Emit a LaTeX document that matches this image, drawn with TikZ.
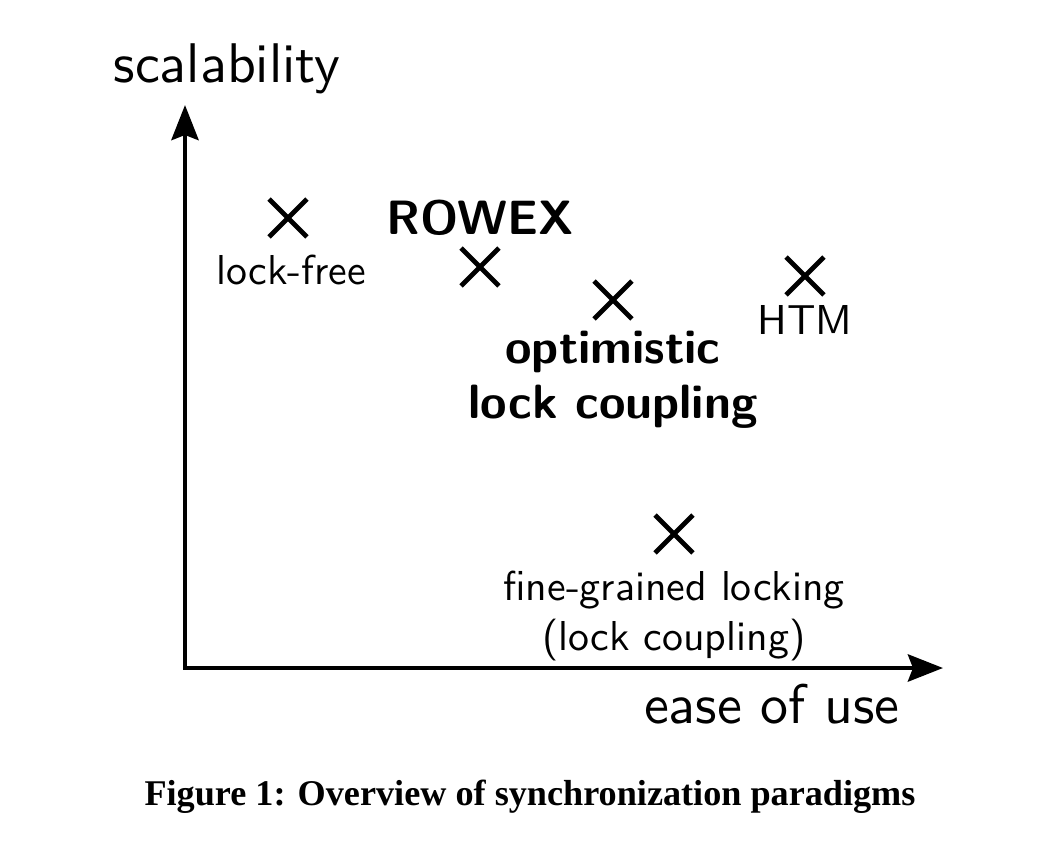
\documentclass[tikz,border=0pt]{standalone}
\usepackage{fontspec}
\newfontfamily\captionfont{Liberation Serif}
\newfontfamily\lmsten{lmsans10-regular.otf}[BoldFont=lmsans10-bold.otf]
\usetikzlibrary{arrows.meta,shapes.misc,positioning}

\begin{document}
\begin{tikzpicture}
[node distance=0.15cm,
>={Stealth[length=3.5mm,width=2.7mm,inset=0.5mm]},
axis/.style={<->,line width=1.4pt},
%
point/.style={shape=cross out,draw=black,line width=1.4pt,minimum size=0.33cm,inner sep=0pt},
axislabel/.style={font=\lmsten\fontsize{15.9}{18}\selectfont,inner sep=0pt},
plabel/.style={font=\lmsten\fontsize{11.9}{14.2}\selectfont,inner sep=0pt,align=center},
blabel/.style={font=\lmsten\bfseries\fontsize{13.7}{15.65}\selectfont,inner sep=0pt,align=center},
%
figcaption/.style={font=\captionfont\bfseries\fontsize{10.3}{12}\selectfont,anchor=base}]

\useasboundingbox (-1.85,-1.98) rectangle (8.61,6.68);

% axes
\coordinate (o) at (0,0);
\coordinate (ytip) at (0,5.63);
\coordinate (xtip) at (7.58,0);
\draw [axis] (ytip) -- (o) -- (xtip);
\node (ylabel) [axislabel,above=0.1cm of ytip,xshift=0.42cm] {scalability};
\node (xlabel) [axislabel,below left=0.15cm and 0.43cm of xtip] {ease of use};

% paradigms
\node (xlockfree) [point] at (1.03,4.50) {};
\node (xrowex) [point] at (2.95,4.01) {};
\node (xolc) [point] at (4.28,3.68) {};
\node (xhtm) [point] at (6.20,3.92) {};
\node (xfine) [point] at (4.89,1.34) {};

\node (lockfree) [plabel,below=0.17cm of xlockfree,xshift=0.03cm] {lock-free};
\node (rowex) [blabel,above=0.12cm of xrowex] {ROWEX};
\node (olc) [blabel,below=0.11cm of xolc] {optimistic\\lock coupling};
\node (htm) [plabel,below=0.1cm of xhtm] {HTM};
\node (fine) [plabel,below=0.17cm of xfine] {fine-grained locking\\(lock coupling)};

\node (caption) [figcaption] at (3.45,-1.37) {Figure 1: Overview of synchronization paradigms};

\end{tikzpicture}
\end{document}
